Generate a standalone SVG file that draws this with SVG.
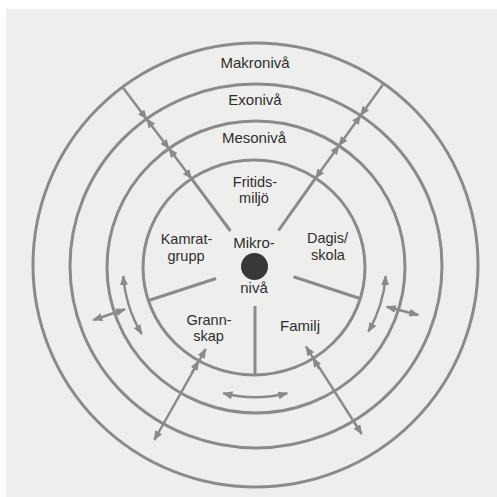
<svg xmlns="http://www.w3.org/2000/svg" width="497" height="497" viewBox="0 0 497 497">
<defs>
<style>
.ring{fill:none;stroke:#8a8a8a;stroke-width:3}
.ln{fill:none;stroke:#8a8a8a;stroke-width:3}
.ar{fill:none;stroke:#8a8a8a;stroke-width:2.5}
.t{font-family:"Liberation Sans",Arial,sans-serif;font-size:15px;fill:#2e2e2e;text-anchor:middle}
.t2{font-family:"Liberation Sans",Arial,sans-serif;font-size:14.5px;fill:#2e2e2e;text-anchor:middle}
</style>
<marker id="ah" viewBox="0 0 10 8" markerUnits="userSpaceOnUse" markerWidth="10" markerHeight="8" refX="9" refY="4" orient="auto-start-reverse">
<path d="M0,0 L10,4 L0,8 Z" fill="#8a8a8a"/>
</marker>
</defs>
<rect x="0" y="0" width="497" height="497" fill="#ffffff"/>
<rect x="6" y="9" width="491" height="488" fill="#eeeeec"/>

<g id="rings">
<ellipse id="makro" class="ring" cx="255.5" cy="265" rx="222.5" ry="222"/>
<ellipse id="exo" class="ring" cx="256" cy="266" rx="186" ry="182"/>
<ellipse id="meso" class="ring" cx="256" cy="267" rx="149" ry="146"/>
<ellipse id="mikro" class="ring" cx="254" cy="267.5" rx="111" ry="107.5"/>
</g>

<g id="connectors">
<!-- spokes -->
<line class="ln" x1="230.5" y1="231" x2="191.5" y2="178.6"/>
<line class="ln" x1="278.5" y1="230.5" x2="315.6" y2="178.1"/>
<line class="ln" x1="216" y1="278.5" x2="148.5" y2="300.5"/>
<line class="ln" x1="293.5" y1="276.7" x2="360" y2="298.5"/>
<line class="ln" x1="255" y1="306" x2="255" y2="375.5"/>
<!-- upper-left radial arrows -->
<line class="ar" x1="122.7" y1="87.3" x2="146.5" y2="118.9" marker-end="url(#ah)"/>
<line class="ar" x1="146.5" y1="118.9" x2="168.9" y2="148.6" marker-start="url(#ah)" marker-end="url(#ah)"/>
<line class="ar" x1="168.9" y1="148.6" x2="191.5" y2="178.6" marker-start="url(#ah)" marker-end="url(#ah)"/>
<!-- upper-right radial arrows -->
<line class="ar" x1="383.7" y1="83.5" x2="360.6" y2="115.5" marker-end="url(#ah)"/>
<line class="ar" x1="360.6" y1="115.5" x2="338.9" y2="145.7" marker-start="url(#ah)" marker-end="url(#ah)"/>
<line class="ar" x1="338.9" y1="145.7" x2="315.6" y2="178.1" marker-start="url(#ah)" marker-end="url(#ah)"/>
<!-- curved arrows -->
<path class="ar" d="M123.3,276 A132,132 0 0 0 141.7,334" marker-start="url(#ah)" marker-end="url(#ah)"/>
<path class="ar" d="M385.7,276 A131,131 0 0 1 368.3,331.7" marker-start="url(#ah)" marker-end="url(#ah)"/>
<path class="ar" d="M223.3,393.3 A131,131 0 0 0 287.3,393.3" marker-start="url(#ah)" marker-end="url(#ah)"/>
<!-- short cross arrows -->
<line class="ar" x1="93.3" y1="320" x2="125" y2="309.3" marker-start="url(#ah)" marker-end="url(#ah)"/>
<line class="ar" x1="386.7" y1="306.7" x2="418.3" y2="315" marker-start="url(#ah)" marker-end="url(#ah)"/>
<!-- lower long arrows -->
<line class="ar" x1="205.7" y1="349" x2="154.3" y2="440" marker-start="url(#ah)" marker-end="url(#ah)"/>
<line class="ar" x1="198.5" y1="361" x2="191.7" y2="373.3" marker-start="url(#ah)"/>
<line class="ar" x1="306" y1="346.7" x2="361.7" y2="434" marker-start="url(#ah)" marker-end="url(#ah)"/>
<line class="ar" x1="313" y1="358" x2="319.3" y2="369" marker-start="url(#ah)"/>
</g>

<g id="center-dot"><circle cx="254.5" cy="266.5" r="13.5" fill="#383838"/></g>

<g id="labels">
<text id="lbl-makro" class="t" x="255" y="68">Makronivå</text>
<text id="lbl-exo" class="t" x="255" y="105">Exonivå</text>
<text id="lbl-meso" class="t" x="254" y="143">Mesonivå</text>
</g>
<g id="node-fritid"><text class="t2" x="255" y="186.5">Fritids-</text><text class="t2" x="254" y="203">miljö</text></g>
<g id="node-kamrat"><text class="t2" x="186.5" y="244.25">Kamrat-</text><text class="t2" x="186" y="260.75">grupp</text></g>
<g id="node-mikro"><text class="t" x="254" y="247.5">Mikro-</text><text class="t" x="254" y="293">nivå</text></g>
<g id="node-dagis"><text class="t2" x="327.5" y="243">Dagis/</text><text class="t2" x="328" y="259.5">skola</text></g>
<g id="node-grann"><text class="t2" x="209" y="324.75">Grann-</text><text class="t2" x="208.5" y="341.25">skap</text></g>
<g id="node-familj"><text class="t" x="300" y="330.5">Familj</text></g>
</svg>
